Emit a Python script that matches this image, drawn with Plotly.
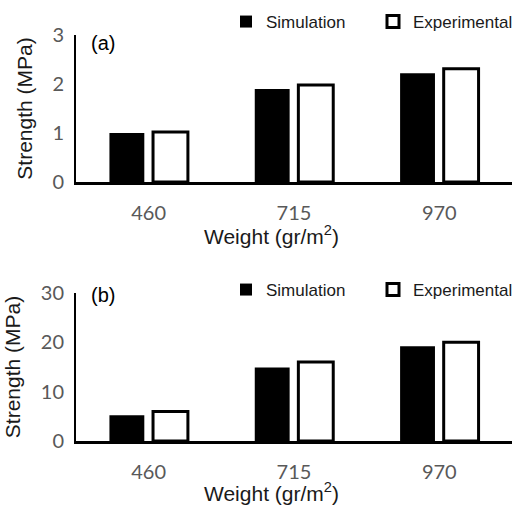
import plotly.graph_objects as go

categories = ["460", "715", "970"]
sim_a = [1.00, 1.90, 2.22]
exp_a = [1.02, 1.98, 2.31]
sim_b = [5.2, 14.9, 19.2]
exp_b = [6.0, 16.0, 20.0]
yticks_a = [0, 1, 2, 3]
yticks_b = [0, 10, 20, 30]
series_names = ["Simulation", "Experimental"]

W, H = 514, 509
ml, mr, mt, mb = 76, 2, 35, 68

fig = go.Figure()

def add_panel(sim, exp, xa, ya, legend):
    fig.add_trace(go.Bar(x=categories, y=sim, name=series_names[0],
                         marker=dict(color="black", line=dict(color="black", width=0)),
                         xaxis=xa, yaxis=ya, legend=legend, showlegend=True))
    fig.add_trace(go.Bar(x=categories, y=exp, name=series_names[1],
                         marker=dict(color="white", line=dict(color="black", width=3)),
                         xaxis=xa, yaxis=ya, legend=legend, showlegend=True))

add_panel(sim_a, exp_a, "x", "y", "legend")
add_panel(sim_b, exp_b, "x2", "y2", "legend2")

tickfont = dict(family="Lato, Liberation Sans, sans-serif", size=20, color="#595959")
titlefont = dict(family="Liberation Sans, Arial, sans-serif", size=21, color="#1a1a1a")
legfont = dict(family="Liberation Sans, Arial, sans-serif", size=17, color="#1a1a1a")

plot_h = H - mt - mb
dom_a = [(441 - 182) / plot_h, 1.0]
dom_b = [0.0, (441 - 293) / plot_h]

def py(px):
    return (441 - px) / plot_h

xcommon = dict(showline=True, linecolor="black", linewidth=2.5, ticks="",
               tickfont=tickfont, showgrid=False, zeroline=False,
               ticklabelstandoff=11, fixedrange=True)
ycommon = dict(showline=True, linecolor="black", linewidth=2, ticks="",
               tickfont=tickfont, showgrid=False, zeroline=False,
               ticklabelstandoff=6, fixedrange=True,
               title=dict(text="Strength (MPa)", font=titlefont, standoff=14))

leg_x = (226 - ml) / (W - ml - mr)
fig.update_layout(
    width=W, height=H,
    margin=dict(l=ml, r=mr, t=mt, b=mb, autoexpand=False),
    paper_bgcolor="white", plot_bgcolor="white",
    barmode="group", bargap=0.40, bargroupgap=0.2,
    xaxis=dict(domain=[0, 1], anchor="y", **xcommon),
    yaxis=dict(domain=dom_a, anchor="x", range=[0, 3], tickvals=yticks_a, **ycommon),
    xaxis2=dict(domain=[0, 1], anchor="y2", **xcommon),
    yaxis2=dict(domain=dom_b, anchor="x2", range=[0, 30], tickvals=yticks_b, **ycommon),
    legend=dict(orientation="h", x=leg_x, xanchor="left", y=py(22), yanchor="middle",
                font=legfont, bgcolor="rgba(0,0,0,0)", itemwidth=30, entrywidth=102,
                traceorder="normal"),
    legend2=dict(orientation="h", x=leg_x, xanchor="left", y=py(290), yanchor="middle",
                 font=legfont, bgcolor="rgba(0,0,0,0)", itemwidth=30, entrywidth=102,
                 traceorder="normal"),
    showlegend=True,
)

labfont = dict(family="Liberation Sans, Arial, sans-serif", size=20, color="black")
fig.add_annotation(text="(a)", xref="paper", yref="paper", x=(89 - ml) / (W - ml - mr), y=py(43),
                   xanchor="left", yanchor="middle", showarrow=False, font=labfont)
fig.add_annotation(text="(b)", xref="paper", yref="paper", x=(89 - ml) / (W - ml - mr), y=py(295),
                   xanchor="left", yanchor="middle", showarrow=False, font=labfont)

xt_center = (271 - ml) / (W - ml - mr)
fig.add_annotation(text="Weight (gr/m<sup>2</sup>)", xref="paper", yref="paper",
                   x=xt_center, y=py(235), xanchor="center", yanchor="middle",
                   showarrow=False, font=titlefont)
fig.add_annotation(text="Weight (gr/m<sup>2</sup>)", xref="paper", yref="paper",
                   x=xt_center, y=py(492), xanchor="center", yanchor="middle",
                   showarrow=False, font=titlefont)

fig.write_html("out.html", config={"displayModeBar": False},
               post_script="document.body.style.margin='0';")
